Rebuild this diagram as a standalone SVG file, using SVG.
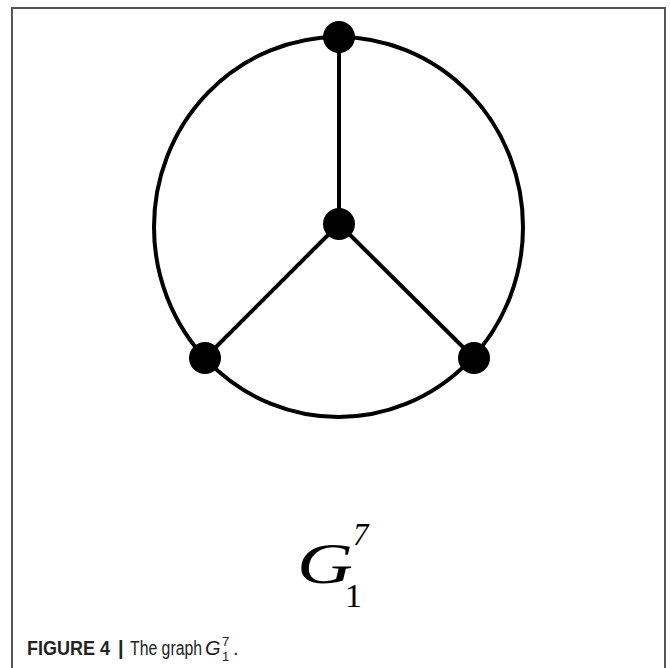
<svg xmlns="http://www.w3.org/2000/svg" width="670" height="668" viewBox="0 0 670 668">
<style>
.edge{stroke:#000;stroke-width:4;fill:none}
.node{fill:#000}
.frame{stroke:#555;stroke-width:2;fill:none}
.lbl{font-family:"Liberation Serif","Times New Roman",serif;fill:#000}
.cap{font-family:"Liberation Sans",Arial,sans-serif;font-size:20px;fill:#222}
</style>
<rect width="670" height="668" fill="#fff"/>
<path class="frame" d="M12,668 V8 H665 V668"/>
<g id="connectors">
<ellipse class="edge" cx="338.5" cy="227" rx="184.5" ry="190"/>
<line class="edge" x1="339" y1="37" x2="339" y2="224"/>
<line class="edge" x1="339" y1="224" x2="205" y2="358"/>
<line class="edge" x1="339" y1="224" x2="474" y2="358"/>
</g>
<g id="n-top"><circle class="node" cx="339" cy="37" r="16"/></g>
<g id="n-center"><circle class="node" cx="339" cy="224" r="16"/></g>
<g id="n-left"><circle class="node" cx="205" cy="358" r="16"/></g>
<g id="n-right"><circle class="node" cx="474" cy="358" r="16"/></g>
<g id="label">
<text class="lbl" x="297" y="583" font-size="58"><tspan font-style="italic" textLength="56" lengthAdjust="spacingAndGlyphs">G</tspan><tspan x="353" y="545" font-size="31" font-style="italic">7</tspan><tspan x="345" y="607" font-size="34">1</tspan></text>
</g>
<g id="caption">
<text class="cap" x="27" y="655"><tspan font-weight="bold" textLength="83" lengthAdjust="spacingAndGlyphs">FIGURE 4</tspan><tspan x="118" font-weight="bold">|</tspan><tspan x="130" textLength="72" lengthAdjust="spacingAndGlyphs">The graph</tspan><tspan x="205" font-style="italic">G</tspan><tspan x="222" y="646" font-size="13">7</tspan><tspan x="222" y="661" font-size="13">1</tspan><tspan x="233" y="655">.</tspan></text>
</g>
</svg>
